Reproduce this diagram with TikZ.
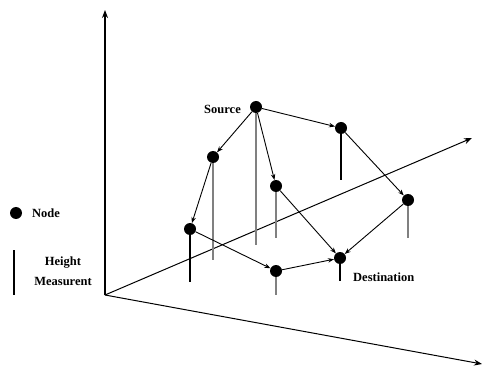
\documentclass[tikz,border=0pt]{standalone}
\usepackage{fontspec}
\setmainfont{Liberation Serif}
\usetikzlibrary{arrows.meta}
\begin{document}
\begin{tikzpicture}[x=1pt,y=-1pt,
  dot/.style={circle,fill=black,inner sep=0pt,minimum size=12pt},
  lbl/.style={font=\fontsize{12.5}{13}\selectfont\bfseries,inner sep=0pt},
  axis/.style={line width=1.3pt,-{Stealth[length=8pt,width=6pt]}},
  edge/.style={line width=0.9pt,-{Stealth[length=6pt,width=4.5pt]}},
  hgt/.style={line width=1.3pt,black},
  hgtg/.style={line width=1.3pt,black!50}]
\useasboundingbox (0,0) rectangle (484,371);
% axes
\coordinate (O) at (105,295);
\coordinate (Zt) at (105,10);
\coordinate (Xt) at (472,138);
\coordinate (Yt) at (482,364);
\draw[axis] (O) -- (Zt);
\draw[axis,line width=1pt] (O) -- (Xt);
\draw[axis,line width=1pt] (O) -- (Yt);
% node positions
\coordinate (s) at (256,107);
\coordinate (a) at (213,157);
\coordinate (b) at (341,128);
\coordinate (c) at (276,186);
\coordinate (d) at (408,200);
\coordinate (e) at (190,229);
\coordinate (f) at (276,271);
\coordinate (t) at (340,258);
% height feet
\coordinate (sh) at (256,245);
\coordinate (ah) at (213,260);
\coordinate (bh) at (341,180);
\coordinate (ch) at (276,238);
\coordinate (dh) at (408,238);
\coordinate (eh) at (190,282);
\coordinate (fh) at (276,295);
\coordinate (th) at (340,281);
\draw[hgtg] (s) -- (sh);
\draw[hgtg] (a) -- (ah);
\draw[hgt] (b) -- (bh);
\draw[hgtg] (c) -- (ch);
\draw[hgtg] (d) -- (dh);
\draw[hgt] (e) -- (eh);
\draw[hgtg] (f) -- (fh);
\draw[hgt] (t) -- (th);
% nodes
\node[dot] (S) at (s) {};
\node[dot] (A) at (a) {};
\node[dot] (B) at (b) {};
\node[dot] (C) at (c) {};
\node[dot] (D) at (d) {};
\node[dot] (E) at (e) {};
\node[dot] (F) at (f) {};
\node[dot] (T) at (t) {};
% edges
\draw[edge] (S) -- (A);
\draw[edge] (S) -- (C);
\draw[edge] (S) -- (B);
\draw[edge] (B) -- (D);
\draw[edge] (D) -- (T);
\draw[edge] (C) -- (T);
\draw[edge] (A) -- (E);
\draw[edge] (E) -- (F);
\draw[edge] (F) -- (T);
% labels
\node[lbl,anchor=east] (ls) at (241,109) {Source};
\node[lbl,anchor=west] (lt) at (353,277) {Destination};
% legend
\node[dot] (ld) at (16,213) {};
\node[lbl,anchor=west] (ln) at (32,213) {Node};
\coordinate (lb1) at (14,250);
\coordinate (lb2) at (14,295);
\draw[hgt] (lb1) -- (lb2);
\node[lbl] (lh1) at (63,263) {Height};
\node[lbl] (lh2) at (63,281) {Measurent};
\end{tikzpicture}
\end{document}
